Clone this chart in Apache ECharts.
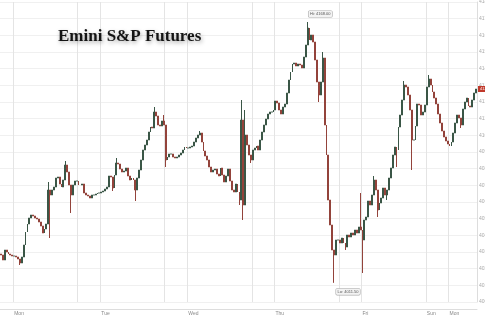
<!DOCTYPE html>
<html><head><meta charset="utf-8">
<script src="https://cdn.jsdelivr.net/npm/echarts@6/dist/echarts.min.js"></script>
<style>html,body{margin:0;padding:0;background:#fff}#c{width:485px;height:315px}</style>
</head><body><div id="c"></div>
<script>
// 30-minute closes, Emini S&P futures
const closes = [
4028.2,4025.2,4031.2,4030.0,4028.8,4028.2,4027.6,4027.6,4027.0,4025.8,
4023.4,4027.0,4034.2,4042.0,4046.8,4050.4,4052.2,4051.6,4050.4,4049.8,
4048.0,4045.6,4041.4,4043.8,4046.8,4067.2,4064.2,4067.2,4069.0,4074.4,
4075.0,4070.8,4069.0,4073.2,4082.2,4078.0,4070.2,4064.2,4070.2,4072.6,
4072.6,4070.2,4070.2,4070.8,4065.4,4064.2,4063.6,4062.4,4064.2,4064.2,
4064.8,4065.4,4065.4,4066.0,4066.6,4067.8,4069.0,4075.6,4075.0,4068.4,
4076.2,4083.4,4082.8,4079.8,4078.0,4078.6,4080.4,4075.6,4073.2,4074.4,
4073.2,4067.2,4074.4,4079.2,4085.2,4091.2,4094.2,4097.2,4102.0,4105.0,
4104.4,4114.0,4111.6,4106.2,4105.6,4108.6,4106.2,4085.2,4087.0,4088.8,
4088.8,4087.0,4086.4,4087.0,4088.2,4089.4,4091.2,4093.0,4092.4,4092.4,
4093.0,4093.6,4096.0,4098.4,4100.2,4101.4,4096.0,4090.6,4087.6,4085.2,
4081.0,4078.0,4079.2,4079.8,4076.8,4075.6,4080.4,4076.2,4072.0,4075.6,
4079.8,4072.6,4067.2,4066.0,4070.8,4066.0,4061.2,4109.2,4058.2,4100.2,
4094.2,4088.2,4085.2,4091.2,4092.4,4093.6,4091.2,4097.2,4102.0,4106.2,
4109.8,4112.8,4114.0,4114.0,4115.2,4120.6,4119.4,4115.2,4112.8,4117.0,
4118.8,4125.4,4133.2,4138.0,4142.8,4143.4,4141.6,4142.8,4142.2,4140.4,
4147.0,4154.2,4164.4,4157.2,4160.2,4156.0,4145.2,4132.0,4124.2,4132.0,
4146.4,4106.2,4088.2,4061.2,4046.2,4031.2,4028.2,4037.2,4037.2,4035.4,
4038.4,4035.4,4033.0,4040.2,4039.0,4041.4,4040.2,4043.2,4041.4,4045.0,
4043.2,4037.2,4049.2,4051.0,4060.6,4058.2,4064.2,4073.2,4067.2,4055.2,
4059.4,4062.4,4068.4,4064.2,4067.2,4074.4,4080.4,4088.2,4093.0,4091.2,
4105.0,4112.2,4121.2,4130.2,4129.0,4124.2,4115.2,4097.2,4097.2,4105.6,
4118.8,4118.2,4112.2,4114.0,4118.2,4129.0,4133.8,4130.2,4126.0,4122.4,
4118.8,4112.8,4107.4,4102.6,4099.0,4096.6,4094.8,4093.6,4096.0,4101.4,
4107.4,4112.2,4110.4,4106.2,4115.8,4120.0,4122.4,4117.6,4117.0,4121.2,
4125.4,4127.8
];
const firstOpen = 4028.8;
// wick extremes of the spikes: [candle index, price]
const spikeHighs = [[25,4072.0],[34,4084.6],[61,4086.4],[81,4117.0],[86,4112.2],[105,4102.6],
  [127,4121.2],[129,4115.2],[162,4168.0],[170,4150.0],[190,4065.4],[197,4075.6],[213,4132.6],[226,4136.2]];
const spikeLows = [[10,4022.2],[26,4038.4],[37,4053.4],[59,4066.6],[71,4060.6],[87,4081.0],[126,4058.2],
  [128,4049.2],[132,4083.4],[168,4120.0],[176,4011.5],[182,4031.2],[191,4017.4],[199,4051.0],
  [204,4061.2],[209,4081.0],[217,4079.2],[243,4104.4]];
const dayLabels = {7:'Mon',53:'Tue',99:'Wed',145:'Thu',191:'Fri',225:'Sun',237:'Mon'};
const sessionLines = [7,41,53,87,99,133,145,179,191,225,237];
const yMin = 4000, yMax = 4180, yStep = 10;

// time categories: 30-min bars, daily break 17:00-18:00, weekend closed
const categories = [];
let t = Date.UTC(2022,0,2,20,30);
while (categories.length < closes.length) {
  const d = new Date(t), day = d.getUTCDay(), h = d.getUTCHours();
  const skip = h === 17 || day === 6 || (day === 5 && h >= 17) || (day === 0 && h < 18);
  if (!skip) categories.push(d.toISOString().slice(0,16).replace('T',' '));
  t += 30*60*1000;
}

const hiMap = Object.fromEntries(spikeHighs), loMap = Object.fromEntries(spikeLows);
const ohlc = closes.map((c,i) => {
  const o = i ? closes[i-1] : firstOpen;
  let hi = Math.max(o,c), lo = Math.min(o,c);
  if (hiMap[i] != null) hi = Math.max(hi, hiMap[i]);
  if (loMap[i] != null) lo = Math.min(lo, loMap[i]);
  return [o, c, lo, hi];
});

const chart = echarts.init(document.getElementById('c'), null, {renderer:'canvas'});
const boxLabel = {
  show:true, fontSize:4, color:'#555', backgroundColor:'#f3f3f3',
  borderColor:'#aaa', borderWidth:0.6, borderRadius:1, padding:[1,1.5], position:'right'
};
chart.setOption({
  animation:false,
  backgroundColor:'#fff',
  title:{
    text:'Emini S&P Futures', left:58, top:28, padding:0,
    textStyle:{fontFamily:'Liberation Serif', fontWeight:'bold', fontSize:17, color:'#141414',
      textShadowColor:'rgba(0,0,0,0.35)', textShadowBlur:4, textShadowOffsetX:1, textShadowOffsetY:2}
  },
  grid:{left:0, right:8, top:2, bottom:13, containLabel:false, outerBoundsMode:'none'},
  xAxis:{
    type:'category', data:categories, boundaryGap:true, offset:7,
    axisLine:{show:true, lineStyle:{color:'#dddddd', width:1}},
    axisTick:{show:false},
    axisLabel:{interval:(i)=>dayLabels[i]!==undefined, formatter:(v,i)=>dayLabels[i]||'',
      fontSize:5, color:'#888', align:'left', margin:2},
    splitLine:{show:true, interval:(i)=>sessionLines.includes(i), lineStyle:{color:'#e4e4e4', width:1}}
  },
  yAxis:{
    type:'value', position:'right', min:yMin, max:yMax, interval:yStep, scale:true,
    axisLine:{show:true, lineStyle:{color:'#dddddd'}},
    axisTick:{show:false},
    axisLabel:{fontSize:5, color:'#aaa', margin:2, formatter:v=>v.toFixed(2)},
    splitLine:{show:true, lineStyle:{color:'#f0f0f0', width:1}}
  },
  series:[{
    type:'candlestick', data:ohlc, barWidth:'70%',
    itemStyle:{color:'#3a5646', color0:'#93433b', borderColor:'#3a5646', borderColor0:'#93433b', borderWidth:1},
    markPoint:{
      symbol:'rect', symbolSize:0, silent:true,
      data:[
        {type:'max', valueDim:'highest', label:Object.assign({}, boxLabel, {offset:[-4,-8], formatter:p=>'Hi: '+p.value.toFixed(2)})},
        {type:'min', valueDim:'lowest', label:Object.assign({}, boxLabel, {offset:[-3,9], formatter:p=>'Lo: '+p.value.toFixed(2)})}
      ]
    },
    markLine:{
      symbol:'none', silent:true, lineStyle:{color:'rgba(0,0,0,0)', width:0, type:'solid'},
      data:[{yAxis:closes[closes.length-1]}],
      label:{show:true, position:'end', distance:1, fontSize:4, color:'#fff', backgroundColor:'#c0392b',
        padding:[1,2], formatter:p=>Number(p.value).toFixed(2)}
    }
  }]
});
</script></body></html>
